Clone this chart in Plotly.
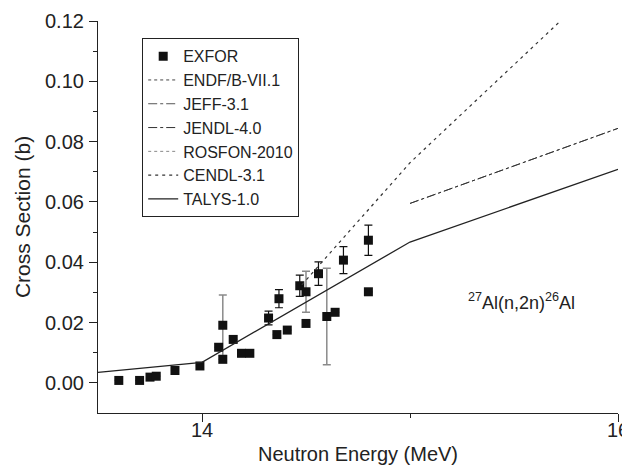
import plotly.graph_objects as go

# EXFOR data (black error bars where visible)
exfor_x = [13.6, 13.7, 13.75, 13.78, 13.87, 13.99, 14.08, 14.1, 14.15, 14.19, 14.23,
           14.32, 14.36, 14.37, 14.41, 14.47, 14.5, 14.56, 14.64, 14.68, 14.8, 14.8]
exfor_y = [0.0008, 0.0008, 0.0019, 0.0022, 0.0041, 0.0056, 0.0118, 0.0078, 0.0144, 0.0098, 0.0098,
           0.0215, 0.0160, 0.0279, 0.0175, 0.0322, 0.0197, 0.0362, 0.0234, 0.0407, 0.0302, 0.0473]
exfor_err = [0, 0, 0, 0, 0, 0, 0, 0, 0, 0, 0,
             0.0023, 0, 0.0030, 0, 0.0035, 0, 0.0039, 0, 0.0045, 0, 0.0050]

# EXFOR data with grey error bars
exfor2_x = [14.1, 14.5, 14.6]
exfor2_y = [0.0191, 0.0302, 0.0220]
exfor2_err = [0.0100, 0.0068, 0.0160]

# Evaluations
endf_x, endf_y = [None], [None]
rosfon_x, rosfon_y = [None], [None]
jeff_x = [15.0, 16.0]
jeff_y = [0.0595, 0.0844]
jendl_x = [15.0, 16.0]
jendl_y = [0.0595, 0.0844]
cendl_x = [14.48, 15.0, 16.0]
cendl_y = [0.0325, 0.0730, 0.1380]
talys_x = [13.5, 14.0, 15.0, 16.0]
talys_y = [0.0035, 0.0068, 0.0467, 0.0708]

y_ticks = [0, 0.02, 0.04, 0.06, 0.08, 0.10, 0.12]
y_ticktext = ["0.00", "0.02", "0.04", "0.06", "0.08", "0.10", "0.12"]
x_ticks = [14, 16]
x_ticktext = ["14", "16"]

fig = go.Figure()

fig.add_trace(go.Scatter(x=exfor2_x, y=exfor2_y, mode="markers", showlegend=False,
                         marker=dict(symbol="square", size=9, color="#111111"),
                         error_y=dict(type="data", array=exfor2_err, visible=True,
                                      color="#8a8a8a", thickness=1.5, width=4)))
fig.add_trace(go.Scatter(x=exfor_x, y=exfor_y, mode="markers", name="EXFOR",
                         marker=dict(symbol="square", size=9, color="#111111"),
                         error_y=dict(type="data", array=exfor_err, visible=True,
                                      color="#111111", thickness=1.2, width=4)))
fig.add_trace(go.Scatter(x=endf_x, y=endf_y, mode="lines", name="ENDF/B-VII.1",
                         line=dict(color="#444444", width=1, dash="dot")))
fig.add_trace(go.Scatter(x=jeff_x, y=jeff_y, mode="lines", name="JEFF-3.1",
                         line=dict(color="#555555", width=1, dash="dashdot")))
fig.add_trace(go.Scatter(x=jendl_x, y=jendl_y, mode="lines", name="JENDL-4.0",
                         line=dict(color="#333333", width=1, dash="dashdot")))
fig.add_trace(go.Scatter(x=rosfon_x, y=rosfon_y, mode="lines", name="ROSFON-2010",
                         line=dict(color="#888888", width=1, dash="dot")))
fig.add_trace(go.Scatter(x=cendl_x, y=cendl_y, mode="lines", name="CENDL-3.1",
                         line=dict(color="#333333", width=1.2, dash="3px,4px")))
fig.add_trace(go.Scatter(x=talys_x, y=talys_y, mode="lines", name="TALYS-1.0",
                         line=dict(color="#222222", width=1.3)))

fig.add_annotation(x=15.27, y=0.027, xref="x", yref="y", showarrow=False,
                   xanchor="left", yanchor="middle",
                   text="<sup>27</sup>Al(n,2n)<sup>26</sup>Al",
                   font=dict(size=18, color="#222222"))

fig.update_layout(
    width=622, height=461,
    margin=dict(l=90, r=12, t=13, b=56),
    paper_bgcolor="white", plot_bgcolor="white",
    font=dict(family="Liberation Sans, Arial, sans-serif", color="#222222"),
    legend=dict(x=0.085, y=0.956, xanchor="left", yanchor="top",
                bgcolor="white", bordercolor="#222222", borderwidth=1,
                font=dict(size=16, color="#222222"), tracegroupgap=0),
    xaxis=dict(range=[13.5, 16.0], tickvals=x_ticks, ticktext=x_ticktext,
               automargin=False, ticklabelstandoff=-9, ticklabeloverflow="allow",
               showline=True, linecolor="#222222", linewidth=1.2,
               ticks="outside", ticklen=8, tickcolor="#222222",
               minor=dict(tickvals=[15], ticks="outside", ticklen=4, tickcolor="#222222"),
               showgrid=False, zeroline=False, tickfont=dict(size=20),
               title=dict(text="Neutron Energy (MeV)", font=dict(size=20), standoff=6)),
    yaxis=dict(range=[-0.01, 0.12], tickvals=y_ticks, ticktext=y_ticktext,
               automargin=False, ticklabelstandoff=1,
               showline=True, linecolor="#222222", linewidth=1.2,
               ticks="outside", ticklen=8, tickcolor="#222222",
               minor=dict(tickvals=[0.01, 0.03, 0.05, 0.07, 0.09, 0.11], ticks="outside",
                          ticklen=4, tickcolor="#222222"),
               showgrid=False, zeroline=False, tickfont=dict(size=20),
               title=dict(text="Cross Section (b)", font=dict(size=21), standoff=8)),
)

fig.write_html("out.html")
